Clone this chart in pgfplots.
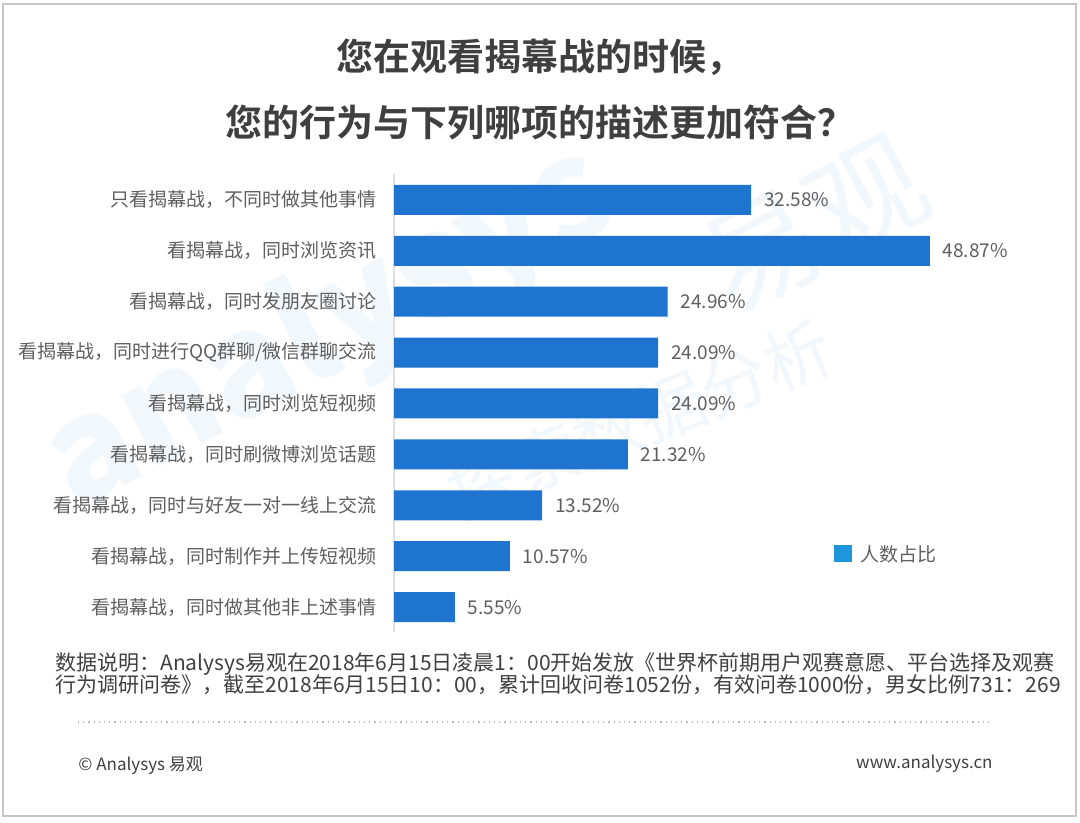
\documentclass[border=0pt]{standalone}
\usepackage{pgfplots}
\pgfplotsset{compat=1.18}
\usepackage{fontspec}
\setmainfont{Noto Sans CJK SC}
\newfontfamily\cjkbold{Noto Sans CJK SC Bold}
\definecolor{barblue}{HTML}{1F74D0}
\definecolor{legblue}{HTML}{1E96DC}
\definecolor{titlegray}{HTML}{3F3F3F}
\definecolor{labgray}{HTML}{5F5F5F}
\definecolor{notegray}{HTML}{404040}
\definecolor{wm}{HTML}{F2F7FC}
\pgfplotstableread[col sep=comma]{
y,v
0,32.58
1,48.87
2,24.96
3,24.09
4,24.09
5,21.32
6,13.52
7,10.57
8,5.55
}\datatable
% pixel position (x from left, y from top) of the 1080x823 page
\def\p#1#2{(axis description cs:{(#1-394)/603},{(632.5-#2)/458})}
\begin{document}
\begin{tikzpicture}
\begin{axis}[
  set layers,
  scale only axis, width=301.5pt, height=229pt,
  xmin=0, xmax=55, ymin=-0.5, ymax=8.5, y dir=reverse,
  axis x line=none, axis y line*=left,
  y axis line style={draw=gray!25, line width=0.8pt, -},
  ytick={0,...,8}, major tick length=0pt, ytick style={draw=none},
  yticklabels={只看揭幕战，不同时做其他事情,看揭幕战，同时浏览资讯,看揭幕战，同时发朋友圈讨论,看揭幕战，同时进行QQ群聊/微信群聊交流,看揭幕战，同时浏览短视频,看揭幕战，同时刷微博浏览话题,看揭幕战，同时与好友一对一线上交流,看揭幕战，同时制作并上传短视频,看揭幕战，同时做其他非上述事情},
  yticklabel style={font=\fontsize{9.5pt}{11pt}\selectfont, text=labgray, xshift=-5pt},
  xbar, bar width=15pt,
  nodes near coords={\pgfmathprintnumber[fixed,fixed zerofill,precision=2,assume math mode=true]{\pgfplotspointmeta}\%},
  nodes near coords style={font=\fontsize{9.5pt}{11pt}\selectfont, text=labgray, anchor=west, xshift=3pt},
  point meta=x,
  clip=false,
]
\begin{pgfonlayer}{axis background}
\fill[white] \p{0}{0} rectangle \p{1080}{823};
\draw[gray!45, line width=0.8pt] \p{3}{4} rectangle \p{1076}{816};
\node[wm, rotate=28, font=\fontsize{70pt}{70pt}\selectfont\bfseries, anchor=center] at \p{330}{330} {analysys};
\node[wm, rotate=28, font=\fontsize{58pt}{58pt}\selectfont, anchor=center] at \p{815}{225} {易观};
\node[wm, rotate=22, font=\fontsize{34pt}{34pt}\selectfont, anchor=center] at \p{640}{420} {探索数据分析};
\end{pgfonlayer}
\addplot[fill=barblue, draw=none] table[x=v, y=y] {\datatable};
% title
\node[titlegray, font=\cjkbold\fontsize{18.5pt}{22pt}\selectfont] at \p{540}{57} {您在观看揭幕战的时候，};
\node[titlegray, font=\cjkbold\fontsize{18.5pt}{22pt}\selectfont] at \p{540}{123} {您的行为与下列哪项的描述更加符合？};
% legend
\fill[legblue] \p{834}{545} rectangle \p{852}{562};
\node[anchor=west, text=labgray, font=\fontsize{9.5pt}{11pt}\selectfont, inner sep=0pt] at \p{860}{554} {人数占比};
% note
\node[anchor=west, text=notegray, font=\fontsize{10.5pt}{12pt}\selectfont, inner sep=0pt] at \p{55}{664} {数据说明：Analysys易观在2018年6月15日凌晨1：00开始发放《世界杯前期用户观赛意愿、平台选择及观赛};
\node[anchor=west, text=notegray, font=\fontsize{10.5pt}{12pt}\selectfont, inner sep=0pt] at \p{55}{685} {行为调研问卷》，截至2018年6月15日10：00，累计回收问卷1052份，有效问卷1000份，男女比例731：269};
\draw[gray!55, line width=0.6pt, dotted] \p{78}{722} -- \p{993}{722};
\node[anchor=west, text=notegray, font=\fontsize{8.5pt}{10pt}\selectfont, inner sep=0pt] at \p{78}{766} {© Analysys 易观};
\node[anchor=east, text=notegray, font=\fontsize{8.5pt}{10pt}\selectfont, inner sep=0pt] at \p{993}{764} {www.analysys.cn};
\end{axis}
\end{tikzpicture}
\end{document}
